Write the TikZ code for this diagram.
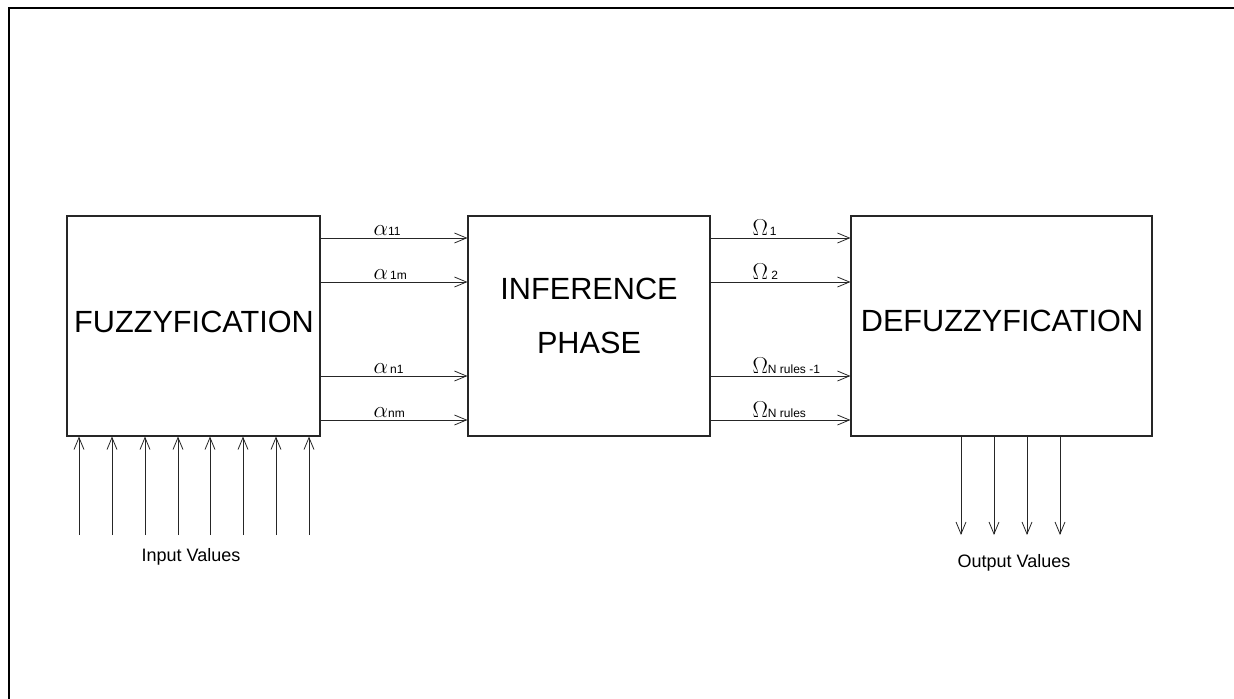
\documentclass[tikz,border=0pt]{standalone}
\usepackage{fontspec}
\setmainfont{Liberation Sans}
\usetikzlibrary{arrows.meta}

\newcommand{\sigA}[1]{{\fontsize{18}{18}\selectfont$\alpha$}{\fontsize{9}{9}\selectfont#1}}
\newcommand{\sigO}[1]{{\fontsize{16}{16}\selectfont$\Omega$}{\fontsize{9}{9}\selectfont#1}}

\tikzset{
  block/.style={draw=black!85, line width=0.8pt, inner sep=0pt, align=center,
    font=\fontsize{23}{40}\selectfont},
  sig/.style={->, draw=black!85, line width=0.6pt},
  lab/.style={anchor=south west, inner sep=1pt},
  iotext/.style={font=\fontsize{13.5}{16}\selectfont}
}

\begin{document}
\begin{tikzpicture}[x=0.75pt, y=-0.75pt, >={Straight Barb[length=9pt,width=7.5pt]}]
  \useasboundingbox (0,0) rectangle (1234,699);
  % ==== FRAME ====
  \draw[line width=1.6pt] (9,699) -- (9,8) -- (1234,8);

  % ==== BLOCKS ====
  \node[block, minimum width=189.75pt, minimum height=165pt] (fuzz) at (193.5,326) {};
  \node[block, minimum width=181.5pt, minimum height=165pt] (inf) at (589,326) {};
  \node[block, minimum width=225.75pt, minimum height=165pt] (defuzz) at (1001.5,326) {};
  \node[block, draw=none] (fuzztxt) at (194,322) {FUZZYFICATION};
  \node[block, draw=none] (inftxt) at (589,316) {INFERENCE\\PHASE};
  \node[block, draw=none] (defuzztxt) at (1002,321) {DEFUZZYFICATION};

  % ==== MEMBERSHIP DEGREES ====
  \foreach \y in {238,282,376,420} {
    \draw[sig] (fuzz.east |- 0,\y) -- (inf.west |- 0,\y);
    \draw[sig] (inf.east |- 0,\y) -- (defuzz.west |- 0,\y);
  }
  \node[lab] (a11) at (372,237) {\sigA{11}};
  \node[lab] (a1m) at (372,281) {\sigA{\,1m}};
  \node[lab] (an1) at (372,375) {\sigA{\,n1}};
  \node[lab] (anm) at (372,419) {\sigA{nm}};
  \node[lab] (o1) at (751,237) {\sigO{\,1}};
  \node[lab] (o2) at (751,281) {\sigO{\;2}};
  \node[lab] (oN1) at (751,375) {\sigO{N rules -1}};
  \node[lab] (oN) at (751,419) {\sigO{N rules}};

  % ==== INPUTS / OUTPUTS ====
  \foreach \x in {79,112,145,178,210,243,276,309}
    \draw[sig] (\x,535) -- (fuzz.south -| \x,0);
  \foreach \x in {961,994,1027,1060}
    \draw[sig] (defuzz.south -| \x,0) -- (\x,535);
  \node[iotext] (inval) at (191,557) {Input Values};
  \node[iotext] (outval) at (1014,563) {Output Values};
\end{tikzpicture}
\end{document}
